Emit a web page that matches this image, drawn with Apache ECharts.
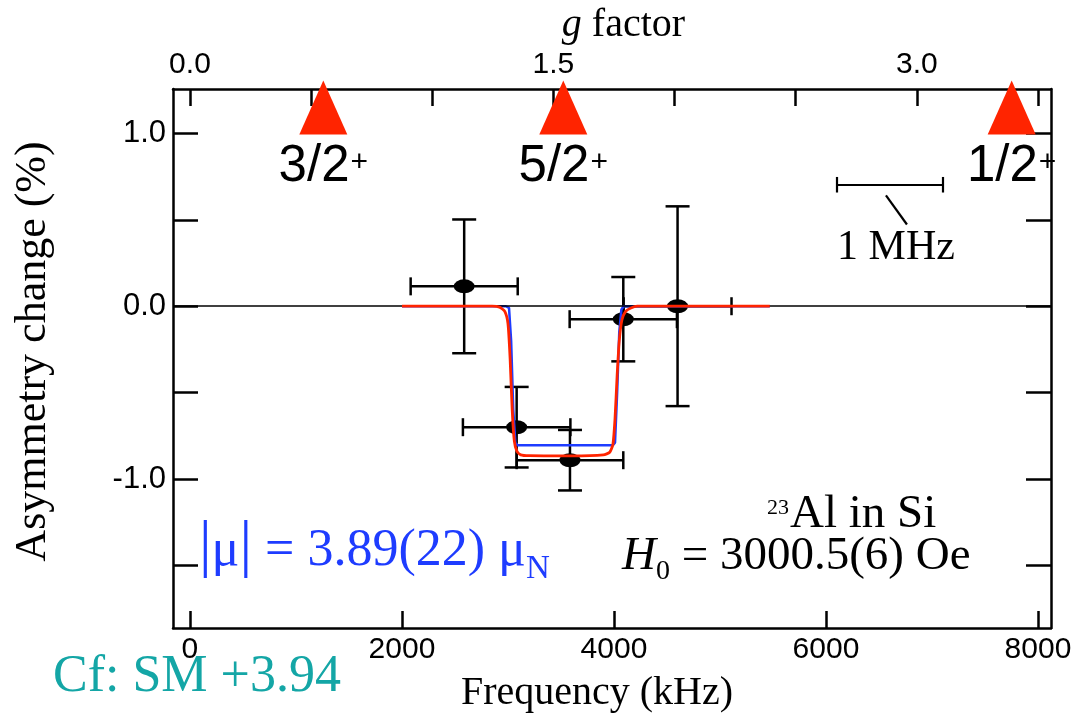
<!DOCTYPE html>
<html>
<head>
<meta charset="utf-8">
<script src="https://cdn.jsdelivr.net/npm/echarts@6/dist/echarts.min.js"></script>
<style>
  html, body { margin: 0; padding: 0; background: #ffffff; }
  #chart { width: 1077px; height: 718px; }
</style>
</head>
<body>
<div id="chart"></div>
<script>
// ---------- data ----------
const freqKHz  = [2587, 3082, 3585, 4088, 4600];
const asym     = [0.115, -0.700, -0.891, -0.075, 0.000];
const freqErr  = [505, 507, 503, 506, 509];
const asymErr  = [0.387, 0.233, 0.175, 0.244, 0.578];

const redFitFreq = [2000, 2850, 2920, 2970, 3000, 3020, 3040, 3060, 3085, 3120, 3200, 3600, 3900, 3960, 3990, 4010, 4030, 4050, 4075, 4110, 4160, 4220, 5470];
const redFitAsym = [0, 0, -0.005, -0.03, -0.10, -0.30, -0.60, -0.78, -0.84, -0.86, -0.865, -0.866, -0.86, -0.845, -0.80, -0.65, -0.40, -0.20, -0.08, -0.03, -0.01, 0, 0];

const blueFitFreq = [2000, 2980, 3010, 3030, 3050, 3070, 3090, 3990, 4010, 4030, 4050, 4070, 4090, 5470];
const blueFitAsym = [0, 0, -0.01, -0.20, -0.60, -0.79, -0.804, -0.804, -0.79, -0.50, -0.15, -0.02, 0, 0];

const spinFreq   = [1258, 3522, 7752];
const spinLevel  = [1.15, 1.15, 1.15];
const spinLabels = ['3/2', '5/2', '1/2'];

const freqTicks   = [0, 2000, 4000, 6000, 8000];
const gTicks      = [0, 0.5, 1.0, 1.5, 2.0, 2.5, 3.0, 3.5];
const gLabels     = [0, 1.5, 3.0];
const asymTicks   = [-1.5, -1.0, -0.5, 0, 0.5, 1.0];
const asymLabels  = [-1.0, 0, 1.0];

const freqMin = -160, freqMax = 8123;
const gPerKHz = 3.5 / 8000;
const asymMin = -1.862, asymMax = 1.257;

// 1 MHz scale bar (kHz, asymmetry)
const scaleBarFreq = [6100, 7100];
const scaleBarLevel = 0.703;
const scaleBarCap = 0.045;
const scaleBarPointer = [[6566, 0.641], [6764, 0.473]];

// ---------- styling ----------
const SERIF = "'Liberation Serif', 'Times New Roman', serif";
const SANS = "'Liberation Sans', Arial, Helvetica, sans-serif";
const BLUE = '#1e3cff';
const RED = '#ff2400';
const TEAL = '#14a6a6';

const chart = echarts.init(document.getElementById('chart'), null, { renderer: 'canvas' });

const axisLineStyle = { color: '#000', width: 2.5 };

const option = {
  animation: false,
  backgroundColor: '#ffffff',
  grid: { left: 173, right: 26, top: 82, bottom: 84, containLabel: false },
  xAxis: [
    {
      type: 'value', position: 'bottom', min: freqMin, max: freqMax,
      axisLine: { show: true, onZero: false, lineStyle: axisLineStyle },
      axisTick: { show: true, inside: true, length: 17, customValues: freqTicks, lineStyle: { color: '#000', width: 2.5 } },
      axisLabel: { customValues: freqTicks, color: '#000', fontSize: 30, fontFamily: SANS, margin: 7, formatter: v => String(v) },
      splitLine: { show: false },
      name: 'Frequency (kHz)', nameLocation: 'middle', nameGap: 45,
      nameTextStyle: { fontFamily: SERIF, fontSize: 40, color: '#000', padding: [0, 30, 0, 0] }
    },
    {
      type: 'value', position: 'top', min: freqMin * gPerKHz, max: freqMax * gPerKHz,
      axisLine: { show: true, onZero: false, lineStyle: axisLineStyle },
      axisTick: { show: true, inside: true, length: 17, customValues: gTicks, lineStyle: { color: '#000', width: 2.5 } },
      axisLabel: { customValues: gLabels, color: '#000', fontSize: 30, fontFamily: SANS, margin: 9, formatter: v => v.toFixed(1) },
      splitLine: { show: false },
      name: '{i|g}{n| factor}', nameLocation: 'middle', nameGap: 44,
      nameTextStyle: {
        padding: [0, 0, 0, 23],
        rich: {
          i: { fontFamily: SERIF, fontSize: 40, fontStyle: 'italic', color: '#000' },
          n: { fontFamily: SERIF, fontSize: 40, color: '#000' }
        }
      }
    }
  ],
  yAxis: [
    {
      type: 'value', position: 'left', min: asymMin, max: asymMax,
      axisLine: { show: true, onZero: false, lineStyle: axisLineStyle },
      axisTick: { show: true, inside: true, length: 25, customValues: asymTicks, lineStyle: { color: '#000', width: 2.5 } },
      axisLabel: { customValues: asymLabels, color: '#000', fontSize: 31, fontFamily: SANS, margin: 7, formatter: v => v.toFixed(1) },
      splitLine: { show: false },
      name: 'Asymmetry change (%)', nameLocation: 'middle', nameGap: 118,
      nameTextStyle: { fontFamily: SERIF, fontSize: 44, color: '#000', padding: [0, 0, 0, 14] }
    },
    {
      type: 'value', position: 'right', min: asymMin, max: asymMax,
      axisLine: { show: true, onZero: false, lineStyle: axisLineStyle },
      axisTick: { show: true, inside: true, length: 25, customValues: asymTicks, lineStyle: { color: '#000', width: 2.5 } },
      axisLabel: { show: false },
      splitLine: { show: false }
    }
  ],
  series: [
    {
      name: 'errors', type: 'custom', xAxisIndex: 0, yAxisIndex: 0, z: 2,
      data: freqKHz.map((f, i) => [f, asym[i], freqErr[i], asymErr[i]]),
      encode: { x: 0, y: 1 },
      renderItem: function (params, api) {
        const x = api.value(0), y = api.value(1), ex = api.value(2), ey = api.value(3);
        const pL = api.coord([x - ex, y]), pR = api.coord([x + ex, y]);
        const pT = api.coord([x, y + ey]), pB = api.coord([x, y - ey]);
        const capH = 9, capV = 12;
        const st = { stroke: '#000', lineWidth: 2.5 };
        const ln = (x1, y1, x2, y2) => ({ type: 'line', shape: { x1, y1, x2, y2 }, style: st });
        return {
          type: 'group',
          children: [
            ln(pL[0], pL[1], pR[0], pR[1]),
            ln(pL[0], pL[1] - capH, pL[0], pL[1] + capH),
            ln(pR[0], pR[1] - capH, pR[0], pR[1] + capH),
            ln(pT[0], pT[1], pB[0], pB[1]),
            ln(pT[0] - capV, pT[1], pT[0] + capV, pT[1]),
            ln(pB[0] - capV, pB[1], pB[0] + capV, pB[1])
          ]
        };
      },
      markLine: {
        silent: true, symbol: ['none', 'none'], label: { show: false },
        lineStyle: { color: '#000', width: 1.5, type: 'solid' },
        data: [{ yAxis: 0 }]
      }
    },
    {
      name: 'data', type: 'scatter', xAxisIndex: 0, yAxisIndex: 0, z: 3,
      symbol: 'circle', symbolSize: [21, 14],
      itemStyle: { color: '#000', opacity: 1 },
      data: freqKHz.map((f, i) => [f, asym[i]])
    },
    {
      name: 'fit blue', type: 'line', xAxisIndex: 0, yAxisIndex: 0, z: 4,
      showSymbol: false, symbol: 'none', smooth: false,
      lineStyle: { color: BLUE, width: 2.5 },
      data: blueFitFreq.map((f, i) => [f, blueFitAsym[i]])
    },
    {
      name: 'fit red', type: 'line', xAxisIndex: 0, yAxisIndex: 0, z: 5,
      showSymbol: false, symbol: 'none', smooth: 0.2,
      lineStyle: { color: RED, width: 2.8 },
      data: redFitFreq.map((f, i) => [f, redFitAsym[i]])
    },
    {
      name: 'scale bar', type: 'lines', coordinateSystem: 'cartesian2d', xAxisIndex: 0, yAxisIndex: 0, z: 4,
      silent: true,
      lineStyle: { color: '#000', width: 2.2, opacity: 1 },
      data: [
        { coords: [[scaleBarFreq[0], scaleBarLevel], [scaleBarFreq[1], scaleBarLevel]] },
        { coords: [[scaleBarFreq[0], scaleBarLevel + scaleBarCap], [scaleBarFreq[0], scaleBarLevel - scaleBarCap]] },
        { coords: [[scaleBarFreq[1], scaleBarLevel + scaleBarCap], [scaleBarFreq[1], scaleBarLevel - scaleBarCap]] },
        { coords: scaleBarPointer }
      ]
    },
    {
      name: 'spins', type: 'scatter', xAxisIndex: 0, yAxisIndex: 0, z: 6, clip: false,
      symbol: 'triangle', symbolSize: [48, 54],
      itemStyle: { color: RED, opacity: 1 },
      data: spinFreq.map((f, i) => [f, spinLevel[i]]),
      label: {
        show: true, position: 'bottom', distance: 7,
        formatter: p => '{a|' + spinLabels[p.dataIndex] + '}{s|+}',
        rich: {
          a: { fontFamily: SANS, fontSize: 51, color: '#000' },
          s: { fontFamily: SANS, fontSize: 30, color: '#000', padding: [0, 0, 8, 1] }
        }
      }
    }
  ],
  graphic: [
    {
      type: 'text', silent: true,
      style: { x: 896, y: 248, text: '1 MHz', font: '42px ' + SERIF, fill: '#000',
               align: 'center', verticalAlign: 'middle', textAlign: 'center', textVerticalAlign: 'middle' }
    },
    {
      type: 'text', silent: true,
      style: {
        x: 767, y: 515, text: '{sup|23}{m|Al in Si}',
        align: 'left', verticalAlign: 'middle', textAlign: 'left', textVerticalAlign: 'middle',
        rich: {
          sup: { fontFamily: SERIF, fontSize: 22, fill: '#000', color: '#000', padding: [0, 1, 14, 0] },
          m: { fontFamily: SERIF, fontSize: 47, fill: '#000', color: '#000' }
        }
      }
    },
    {
      type: 'text', silent: true,
      style: {
        x: 622, y: 557, text: '{h|H}{sub|0}{m| = 3000.5(6) Oe}',
        align: 'left', verticalAlign: 'middle', textAlign: 'left', textVerticalAlign: 'middle',
        rich: {
          h: { fontFamily: SERIF, fontSize: 47, fontStyle: 'italic', fill: '#000', color: '#000' },
          sub: { fontFamily: SERIF, fontSize: 28, fill: '#000', color: '#000', padding: [30, 0, 0, 0] },
          m: { fontFamily: SERIF, fontSize: 47, fill: '#000', color: '#000' }
        }
      }
    },
    {
      type: 'text', silent: true,
      style: {
        x: 199, y: 551, text: '{bar|\u007c}{m|\u03bc}{bar|\u007c}{m| = 3.89(22) \u03bc}{sub|N}',
        align: 'left', verticalAlign: 'middle', textAlign: 'left', textVerticalAlign: 'middle',
        rich: {
          bar: { fontFamily: SERIF, fontSize: 63, fill: BLUE, color: BLUE, padding: [0, 0, 8, 0] },
          m: { fontFamily: SERIF, fontSize: 52, fill: BLUE, color: BLUE },
          sub: { fontFamily: SERIF, fontSize: 33, fill: BLUE, color: BLUE, padding: [36, 0, 0, 0] }
        }
      }
    },
    {
      type: 'text', silent: true,
      style: { x: 53, y: 677, text: 'Cf: SM +3.94', font: '52px ' + SERIF, fill: TEAL,
               align: 'left', verticalAlign: 'middle', textAlign: 'left', textVerticalAlign: 'middle' }
    }
  ]
};

chart.setOption(option);
</script>
</body>
</html>
